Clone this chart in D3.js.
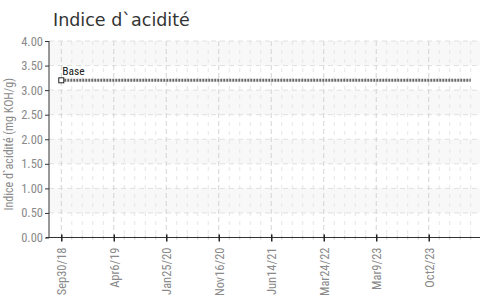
<!DOCTYPE html>
<html>
<head>
<meta charset="utf-8">
<script src="https://cdn.jsdelivr.net/npm/d3@7"></script>
<style>
  body { margin: 0; background: #fff; }
  svg { display: block; }
</style>
</head>
<body>
<div id="chart"></div>
<script>
// dates of the measurements (one every category, label every 5th)
var dates = [
    "Sep30/18", "Nov7/18", "Dec15/18", "Jan22/19", "Feb28/19",
    "Apr6/19", "Jun4/19", "Aug2/19", "Sep30/19", "Nov28/19",
    "Jan25/20", "Mar24/20", "May22/20", "Jul20/20", "Sep17/20",
    "Nov16/20", "Dec28/20", "Feb8/21", "Mar22/21", "May3/21",
    "Jun14/21", "Aug10/21", "Oct6/21", "Dec2/21", "Jan27/22",
    "Mar24/22", "Jun2/22", "Aug11/22", "Oct20/22", "Dec29/22",
    "Mar9/23", "Apr19/23", "May30/23", "Jul10/23", "Aug21/23",
    "Oct2/23", "Nov12/23", "Dec23/23", "Feb2/24", "Mar14/24"
];
var baseValues = [
    3.2, 3.2, 3.2, 3.2, 3.2, 3.2, 3.2, 3.2, 3.2, 3.2,
    3.2, 3.2, 3.2, 3.2, 3.2, 3.2, 3.2, 3.2, 3.2, 3.2,
    3.2, 3.2, 3.2, 3.2, 3.2, 3.2, 3.2, 3.2, 3.2, 3.2,
    3.2, 3.2, 3.2, 3.2, 3.2, 3.2, 3.2, 3.2, 3.2, 3.2
];
var tickLabels = ["Sep30/18", "Apr6/19", "Jan25/20", "Nov16/20", "Jun14/21", "Mar24/22", "Mar9/23", "Oct2/23"];
var yTicks = [0, 0.5, 1, 1.5, 2, 2.5, 3, 3.5, 4];
var seriesName = "Base";

var width = 480, height = 299;
var margin = {top: 41, right: -3, bottom: 61.5, left: 49};
var narrow = "'Liberation Sans Narrow', 'Roboto Condensed', 'Arial Narrow', sans-serif";

var svg = d3.select("#chart").append("svg")
    .attr("width", width)
    .attr("height", height);

var x = d3.scalePoint()
    .domain(dates)
    .range([margin.left, width - margin.right])
    .padding(1.17);

var y = d3.scaleLinear()
    .domain([0, 4])
    .range([height - margin.bottom, margin.top]);

var x0 = margin.left, x1 = width - margin.right;

// alternating background bands
var bands = svg.append("g");
for (var i = 0; i < yTicks.length - 1; i++) {
    if (i % 2 == 1) {
        bands.append("rect")
            .attr("x", x0)
            .attr("y", y(yTicks[i + 1]))
            .attr("width", x1 - x0)
            .attr("height", y(yTicks[i]) - y(yTicks[i + 1]))
            .attr("fill", "#f8f8f8");
    }
}

// minor vertical grid (every category)
svg.append("g")
    .selectAll("line")
    .data(dates.filter(d => tickLabels.indexOf(d) < 0))
    .enter().append("line")
    .attr("x1", d => x(d)).attr("x2", d => x(d))
    .attr("y1", y(4)).attr("y2", y(0))
    .attr("stroke", "#e6e6e6")
    .attr("stroke-dasharray", "4,5");

// horizontal grid
svg.append("g")
    .selectAll("line")
    .data(yTicks.slice(1))
    .enter().append("line")
    .attr("x1", x0).attr("x2", x1)
    .attr("y1", d => y(d)).attr("y2", d => y(d))
    .attr("stroke", "#e0e0e0")
    .attr("stroke-dasharray", "5,4");

// major vertical grid
svg.append("g")
    .selectAll("line")
    .data(tickLabels)
    .enter().append("line")
    .attr("x1", d => x(d)).attr("x2", d => x(d))
    .attr("y1", y(4)).attr("y2", y(0))
    .attr("stroke", "#d4d4d4")
    .attr("stroke-dasharray", "5,3");

// y axis
var yAxis = svg.append("g")
    .attr("transform", "translate(" + x0 + ",0)")
    .call(d3.axisLeft(y).tickValues(yTicks).tickFormat(d3.format(".2f")).tickSize(4).tickPadding(2));
yAxis.select(".domain").attr("stroke", "#333").attr("d", "M0," + y(4) + "V" + (y(0) + 0.5));
yAxis.selectAll(".tick line").attr("stroke", "#333");
yAxis.selectAll("text")
    .attr("fill", "#8a8a8a")
    .style("font-family", narrow)
    .style("font-size", "12.5px");

// x axis: minor ticks
svg.append("g")
    .selectAll("line")
    .data(dates.filter(d => tickLabels.indexOf(d) < 0))
    .enter().append("line")
    .attr("x1", d => x(d)).attr("x2", d => x(d))
    .attr("y1", y(0) - 2).attr("y2", y(0) + 2)
    .attr("stroke", "#c8c8c8");

var xAxis = svg.append("g")
    .attr("transform", "translate(0," + y(0) + ")")
    .call(d3.axisBottom(x).tickValues(tickLabels).tickSize(4).tickPadding(6));
xAxis.select(".domain").attr("stroke", "#333").attr("d", "M" + (x0 - 3) + ",0H" + width);
xAxis.selectAll(".tick line").attr("stroke", "#222").attr("y1", -3).attr("stroke-width", 1.5);
xAxis.selectAll("text")
    .attr("fill", "#8a8a8a")
    .style("font-family", narrow)
    .style("font-size", "12.5px")
    .attr("text-anchor", "end")
    .attr("transform", "rotate(-90)")
    .attr("x", -10)
    .attr("y", 0)
    .attr("dy", "0.35em");

// series line
var line = d3.line()
    .x((d, i) => x(dates[i]))
    .y(d => y(d));

svg.append("path")
    .datum(baseValues)
    .attr("d", line)
    .attr("fill", "none")
    .attr("stroke", "#6a6a6a")
    .attr("stroke-width", 3)
    .attr("stroke-dasharray", "2,1");

// marker + label on first point
svg.append("rect")
    .attr("x", x(dates[0]) - 2.5)
    .attr("y", y(baseValues[0]) - 2.5)
    .attr("width", 5).attr("height", 5)
    .attr("fill", "#fff")
    .attr("stroke", "#222");

svg.append("text")
    .attr("x", x(dates[0]) + 1)
    .attr("y", y(baseValues[0]) - 5)
    .text(seriesName)
    .attr("fill", "#222")
    .style("font-family", narrow)
    .style("font-size", "11.5px");

// titles
svg.append("text")
    .attr("x", 53)
    .attr("y", 26)
    .text("Indice d`acidité")
    .attr("fill", "#333")
    .style("font-family", "'DejaVu Sans', sans-serif")
    .style("font-size", "17.5px");

svg.append("text")
    .attr("transform", "translate(13," + ((y(0) + y(4)) / 2 + 5) + ") rotate(-90)")
    .attr("text-anchor", "middle")
    .text("Indice d`acidité (mg KOH/g)")
    .attr("fill", "#8a8a8a")
    .style("font-family", narrow)
    .style("font-size", "12px");
</script>
</body>
</html>
